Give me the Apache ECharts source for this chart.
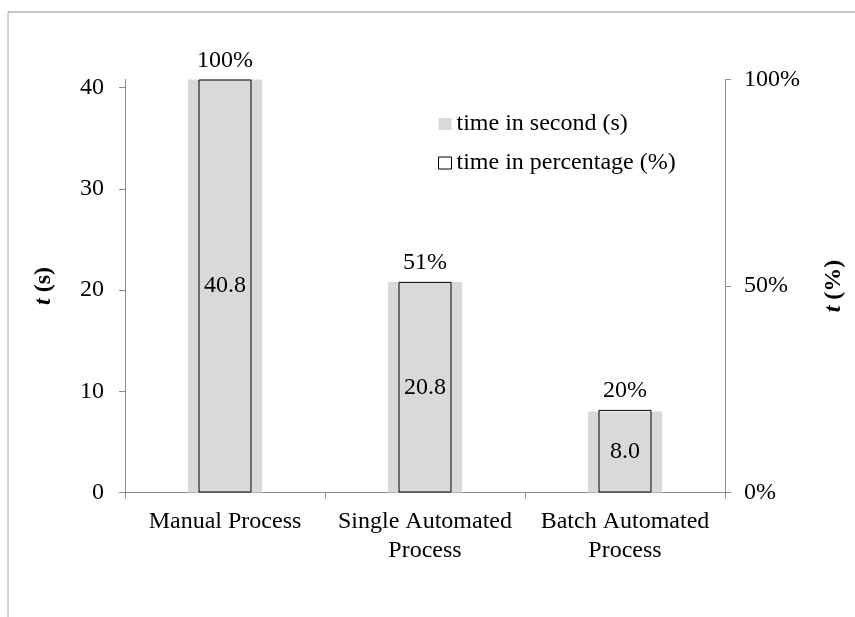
<!DOCTYPE html>
<html>
<head>
<meta charset="utf-8">
<script src="https://cdn.jsdelivr.net/npm/echarts@6/dist/echarts.min.js"></script>
<style>
  html, body { margin: 0; padding: 0; background: #fff; }
  #chart { width: 855px; height: 617px; }
</style>
</head>
<body>
<div id="chart"></div>
<script>
// Processing time per workflow
const categories = ['Manual Process', 'Single Automated\nProcess', 'Batch Automated\nProcess'];
const timeSeconds = [40.8, 20.8, 8.0];
const timePercent = [100, 51, 20];
const secondTicks = [0, 10, 20, 30, 40];
const percentTicks = [0, 50, 100];

const FONT = "'Liberation Serif', 'Times New Roman', serif";
const AXIS_GRAY = '#8c8c8c';
const BAR_GRAY = '#d9d9d9';

const chart = echarts.init(document.getElementById('chart'), null, { renderer: 'canvas' });

const txt = { fontFamily: FONT, fontSize: 24, color: '#000' };

const titleRich = {
  i: { fontFamily: FONT, fontSize: 24, fontStyle: 'italic', fontWeight: 'bold', color: '#000' },
  b: { fontFamily: FONT, fontSize: 24, fontWeight: 'bold', color: '#000' }
};

chart.setOption({
  animation: false,
  backgroundColor: '#fff',
  textStyle: { fontFamily: FONT },
  graphic: [
    { type: 'line', shape: { x1: 8, y1: 12, x2: 860, y2: 12 }, style: { stroke: '#8c8c8c', lineWidth: 1 } },
    { type: 'line', shape: { x1: 8, y1: 12, x2: 8, y2: 620 }, style: { stroke: '#a6a6a6', lineWidth: 1 } }
  ],
  grid: { left: 125, right: 130, top: 79.5, bottom: 124.5, containLabel: false },
  legend: {
    orient: 'vertical',
    left: 433,
    top: 107,
    itemWidth: 13,
    itemHeight: 12,
    itemGap: 15,
    selectedMode: false,
    textStyle: Object.assign({}, txt, { lineHeight: 24 }),
    data: [
      { name: 'time in second (s)', icon: 'rect', itemStyle: { color: BAR_GRAY, borderWidth: 0 } },
      { name: 'time in percentage (%)', icon: 'rect', itemStyle: { color: '#fff', borderColor: '#000', borderWidth: 1 } }
    ]
  },
  xAxis: [
    {
      type: 'category',
      data: categories,
      axisLine: { lineStyle: { color: AXIS_GRAY, width: 1 } },
      axisTick: { show: true, length: 6, lineStyle: { color: AXIS_GRAY } },
      axisLabel: Object.assign({}, txt, { margin: 15, lineHeight: 29, interval: 0 })
    },
    {
      type: 'category',
      data: categories,
      show: false
    }
  ],
  yAxis: [
    {
      type: 'value',
      position: 'left',
      min: 0,
      max: 40.8,
      interval: 10,
      splitLine: { show: false },
      axisLine: { show: true, lineStyle: { color: AXIS_GRAY, width: 1 } },
      axisTick: { show: true, length: 6, customValues: secondTicks, lineStyle: { color: AXIS_GRAY } },
      axisLabel: Object.assign({}, txt, { margin: 21, customValues: secondTicks }),
      name: '{i|t}{b| (s)}',
      nameLocation: 'middle',
      nameRotate: 90,
      nameGap: 69,
      nameTextStyle: { rich: titleRich }
    },
    {
      type: 'value',
      position: 'right',
      min: 0,
      max: 100,
      interval: 50,
      splitLine: { show: false },
      axisLine: { show: true, lineStyle: { color: AXIS_GRAY, width: 1 } },
      axisTick: { show: true, length: 6, customValues: percentTicks, lineStyle: { color: AXIS_GRAY } },
      axisLabel: Object.assign({}, txt, { margin: 19, customValues: percentTicks, formatter: '{value}%' }),
      name: '{i|t}{b| (%)}',
      nameLocation: 'middle',
      nameRotate: 90,
      nameGap: 97,
      nameTextStyle: { rich: titleRich }
    }
  ],
  series: [
    {
      name: 'time in second (s)',
      type: 'bar',
      xAxisIndex: 0,
      yAxisIndex: 0,
      data: timeSeconds,
      barWidth: 74,
      itemStyle: { color: BAR_GRAY },
      label: Object.assign({}, txt, {
        show: true,
        position: 'inside',
        formatter: p => p.value.toFixed(1)
      }),
      z: 2
    },
    {
      name: 'time in percentage (%)',
      type: 'bar',
      xAxisIndex: 1,
      yAxisIndex: 1,
      data: timePercent,
      barWidth: 53,
      itemStyle: { color: 'rgba(0,0,0,0)', borderColor: '#000', borderWidth: 1 },
      label: Object.assign({}, txt, {
        show: true,
        position: 'top',
        distance: 7,
        formatter: p => p.value + '%'
      }),
      z: 3
    }
  ]
});
</script>
</body>
</html>
